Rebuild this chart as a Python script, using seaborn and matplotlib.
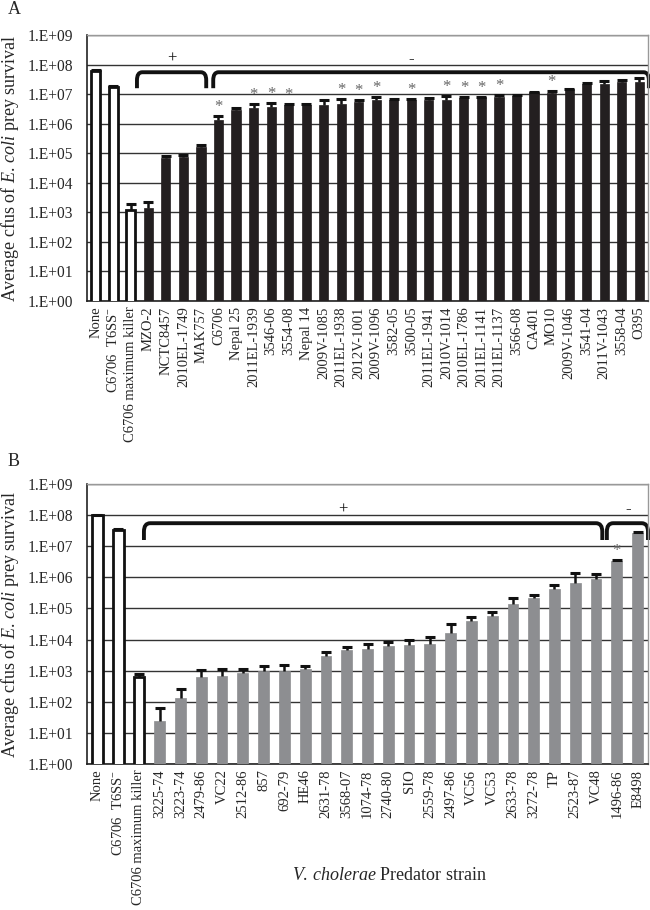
import numpy as np
import pandas as pd
import matplotlib
matplotlib.use("Agg")
import matplotlib.pyplot as plt
from matplotlib.path import Path
from matplotlib.patches import PathPatch
import matplotlib.transforms as mtransforms
import seaborn as sns

sns.set_theme(style="white")
plt.rcParams['font.family'] = ['Liberation Serif', 'DejaVu Serif']
plt.rcParams['mathtext.fontset'] = 'custom'
plt.rcParams['mathtext.rm'] = 'Liberation Serif'
plt.rcParams['mathtext.it'] = 'Liberation Serif:italic'

# ---------------- data: panel A ----------------
cats_a = ["None", r"C6706  T6SS$^{-}$", "C6706 maximum killer", "MZO-2", "NCTC8457",
          "2010EL-1749", "MAK757", "C6706", "Nepal 25", "2011EL-1939", "3546-06",
          "3554-08", "Nepal 14", "2009V-1085", "2011EL-1938", "2012V-1001",
          "2009V-1096", "3582-05", "3500-05", "2011EL-1941", "2010V-1014",
          "2010EL-1786", "2011EL-1141", "2011EL-1137", "3566-08", "CA401", "MO10",
          "2009V-1046", "3541-04", "2011V-1043", "3558-04", "O395"]
vals_a = [5.9e7, 1.75e7, 1.2e3, 1.4e3, 6.8e4, 7.3e4, 1.6e5, 1.3e6, 2.8e6, 3.3e6,
          3.6e6, 4.2e6, 4.2e6, 4.4e6, 4.8e6, 5.4e6, 6.2e6, 6.5e6, 6.5e6, 6.3e6,
          6.5e6, 7.4e6, 7.8e6, 8.0e6, 8.9e6, 1.18e7, 1.12e7, 1.45e7, 2.2e7, 2.2e7,
          2.6e7, 2.6e7]
tops_a = [6.4e7, 1.85e7, 1.9e3, 2.2e3, 7.9e4, 8.5e4, 1.85e5, 1.8e6, 3.3e6, 4.5e6,
          4.9e6, 4.5e6, 4.5e6, 6.5e6, 6.8e6, 6.5e6, 8.3e6, 6.7e6, 7.0e6, 7.2e6,
          8.5e6, 7.7e6, 8.2e6, 9.3e6, 9.2e6, 1.22e7, 1.3e7, 1.5e7, 2.3e7, 2.7e7,
          2.9e7, 3.4e7]
stars_a = [7, 9, 10, 11, 14, 15, 16, 18, 20, 21, 22, 23, 26]
brackets_a = [(2.35, 6.3, 4.35, "+"), (6.7, 31.55, 18.0, "-")]

# ---------------- data: panel B ----------------
cats_b = ["None", r"C6706  T6SS$^{-}$", "C6706 maximum killer", "3225-74", "3223-74",
          "2479-86", "VC22", "2512-86", "857", "692-79", "HE46", "2631-78",
          "3568-07", "1074-78", "2740-80", "SIO", "2559-78", "2497-86", "VC56",
          "VC53", "2633-78", "3272-78", "TP", "2523-87", "VC48", "1496-86", "E8498"]
vals_b = [1.0e8, 3.4e7, 6.1e2, 25, 130, 640, 670, 870, 950, 1.0e3, 1.1e3, 2.9e3,
          4.5e3, 4.9e3, 6.3e3, 6.7e3, 7.4e3, 1.58e4, 3.9e4, 5.7e4, 1.39e5, 2.2e5,
          4.2e5, 6.7e5, 9.1e5, 3.4e6, 2.7e7]
tops_b = [1.02e8, 3.6e7, 7.9e2, 63, 260, 1050, 1100, 1100, 1400, 1500, 1450, 3900,
          5900, 7200, 8100, 9700, 1.2e4, 3.1e4, 5.2e4, 7.9e4, 2.1e5, 2.8e5,
          5.7e5, 1.4e6, 1.25e6, 3.6e6, 2.9e7]
stars_b = [25]
brackets_b = [(2.24, 24.3, 11.8, "+"), (24.52, 26.5, 25.53, "-")]

ytick_vals = [1e0, 1e1, 1e2, 1e3, 1e4, 1e5, 1e6, 1e7, 1e8, 1e9]
ytick_labels = ["1.E+00", "1.E+01", "1.E+02", "1.E+03", "1.E+04", "1.E+05",
                "1.E+06", "1.E+07", "1.E+08", "1.E+09"]
n_controls = 3

W, H = 650, 910
fig = plt.figure(figsize=(W / 100, H / 100), dpi=100)


def ax_rect(left, right, top, bottom):
    return [left / W, 1 - bottom / H, (right - left) / W, (bottom - top) / H]


ax_a = fig.add_axes(ax_rect(87, 648, 35, 301))
ax_b = fig.add_axes(ax_rect(87, 648, 484, 764))


def draw_bracket(ax, x0, x1, ytop=0.86, ybot=0.80, rx=0.3, ry=0.03):
    trans = mtransforms.blended_transform_factory(ax.transData, ax.transAxes)
    verts = [(x0, ybot), (x0, ytop - ry), (x0, ytop), (x0 + rx, ytop),
             (x1 - rx, ytop), (x1, ytop), (x1, ytop - ry), (x1, ybot)]
    codes = [Path.MOVETO, Path.LINETO, Path.CURVE3, Path.CURVE3,
             Path.LINETO, Path.CURVE3, Path.CURVE3, Path.LINETO]
    p = PathPatch(Path(verts, codes), transform=trans, fill=False,
                  edgecolor="#111111", linewidth=2.8, clip_on=False,
                  capstyle="butt", joinstyle="round")
    ax.add_patch(p)


def panel(ax, cats, vals, tops, stars, brackets, bar_color):
    df = pd.DataFrame({"strain": cats, "cfu": vals})
    colors = ["white"] * n_controls + [bar_color] * (len(cats) - n_controls)
    sns.barplot(data=df, x="strain", y="cfu", hue="strain", palette=colors,
                legend=False, ax=ax, width=0.52, saturation=1, errorbar=None,
                zorder=3)
    for i, p in enumerate(ax.patches):
        if i < n_controls:
            p.set_edgecolor("#111111")
            p.set_linewidth(2.0)
        else:
            p.set_edgecolor(bar_color)
            p.set_linewidth(0.5)
    ax.set_yscale("log")
    x = np.arange(len(cats))
    v = np.array(vals)
    err = np.array(tops) - v
    cont = ax.errorbar(x, v, yerr=[np.zeros_like(v), err], fmt="none",
                       ecolor="#111111", elinewidth=1.8, capsize=3.8,
                       capthick=2.2, zorder=4)
    caplines = cont[1]
    if len(caplines) == 2:
        caplines[0].set_visible(False)
    for i in stars:
        ax.text(i, tops[i] * 1.08, "*", ha="center", va="bottom",
                color="#666666", fontsize=12, zorder=5)
    for (x0, x1, lx, lab) in brackets:
        draw_bracket(ax, x0, x1)
        ax.text(lx, 0.88, lab, transform=mtransforms.blended_transform_factory(
            ax.transData, ax.transAxes), ha="center", va="bottom", fontsize=12,
            color="#111111")
    ax.set_ylim(1, 1e9)
    ax.set_xlim(-0.5, len(cats) - 0.5)
    ax.set_yticks(ytick_vals)
    ax.set_yticklabels(ytick_labels)
    ax.yaxis.set_minor_locator(matplotlib.ticker.LogLocator(base=10, subs=np.arange(2, 10)))
    ax.yaxis.set_minor_formatter(matplotlib.ticker.NullFormatter())
    ax.grid(axis="y", which="major", color="#333333", linewidth=1.0, zorder=0)
    ax.set_axisbelow(True)
    ax.set_xticks(x)
    ax.set_xticklabels(cats, rotation=90, fontsize=10.5)
    ax.set_xticks(np.arange(len(cats) + 1) - 0.5, minor=True)
    ax.tick_params(axis="x", which="major", length=0, pad=4)
    ax.tick_params(axis="x", which="minor", length=5, width=1, color="#222222",
                   direction="out")
    ax.tick_params(axis="y", which="major", length=6, width=1.2, color="#222222",
                   direction="out", labelsize=11.2, pad=4)
    ax.tick_params(axis="y", which="minor", length=3, width=0.8, color="#444444",
                   direction="out")
    for s in ["top", "right"]:
        ax.spines[s].set_color("#999999")
        ax.spines[s].set_linewidth(1.0)
    for s in ["left", "bottom"]:
        ax.spines[s].set_color("#222222")
        ax.spines[s].set_linewidth(1.2)
    ax.set_xlabel("")
    ax.set_ylabel(r"Average cfus of $\mathit{E.\,coli}$ prey survival", fontsize=13)
    ax.yaxis.set_label_coords(-0.118, 0.5)


panel(ax_a, cats_a, vals_a, tops_a, stars_a, brackets_a, "#231f20")
panel(ax_b, cats_b, vals_b, tops_b, stars_b, brackets_b, "#8d8e91")

fig.text(8 / W, 1 - 10 / H, "A", fontsize=13, ha="left", va="center")
fig.text(8 / W, 1 - 462 / H, "B", fontsize=13, ha="left", va="center")
fig.text(389 / W, 1 - 875 / H, r"$\mathit{V.\,cholerae}$ Predator strain",
         fontsize=13, ha="center", va="center")

fig.savefig("out.png", dpi=100)
